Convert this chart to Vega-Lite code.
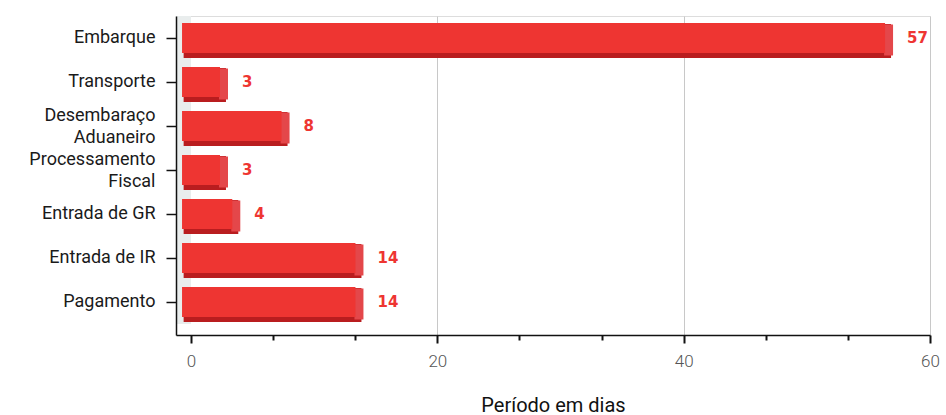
{
  "$schema": "https://vega.github.io/schema/vega-lite/v6.json",
  "autosize": {"type": "none"},
  "padding": {"left": 176, "top": 16, "right": 16, "bottom": 80},
  "width": 754,
  "height": 319,
  "background": "white",
  "data": {
    "values": [
      {"etapa": "Embarque", "dias": 57},
      {"etapa": "Transporte", "dias": 3},
      {"etapa": "Desembaraço|Aduaneiro", "dias": 8},
      {"etapa": "Processamento|Fiscal", "dias": 3},
      {"etapa": "Entrada de GR", "dias": 4},
      {"etapa": "Entrada de IR", "dias": 14},
      {"etapa": "Pagamento", "dias": 14}
    ]
  },
  "encoding": {
    "y": {
      "field": "etapa",
      "type": "nominal",
      "sort": null,
      "scale": {"paddingInner": 0, "paddingOuter": 0.125, "align": 0},
      "axis": {
        "title": null,
        "labelExpr": "split(datum.label, '|')",
        "labelFont": "Roboto",
        "labelFontSize": 18,
        "labelColor": "#1a1a1a",
        "labelLineHeight": 21.5,
        "labelPadding": 11,
        "labelOffset": {"condition": {"test": "indexof(datum.value, '|') >= 0", "value": -10}, "value": 0},
        "domainColor": "#111111",
        "domainWidth": 1.5,
        "tickColor": "#111111",
        "tickWidth": 1.5,
        "tickSize": 10,
        "grid": false
      }
    }
  },
  "layer": [
    {
      "mark": {"type": "rect", "color": "#e9eded"},
      "encoding": {
        "x": {
          "datum": -1.22,
          "type": "quantitative",
          "scale": {"domain": [-1.22, 60], "nice": false, "zero": false},
          "axis": {
            "title": "Período em dias",
            "titleFont": "Roboto",
            "titleFontSize": 20,
            "titleFontWeight": "normal",
            "titleColor": "#111111",
            "titlePadding": 26,
            "values": [0, 6.6667, 13.3333, 20, 26.6667, 33.3333, 40, 46.6667, 53.3333, 60],
            "labelExpr": "datum.value % 20 === 0 ? datum.label : ''",
            "labelFlush": false,
            "labelFont": "Roboto",
            "labelFontSize": 17,
            "labelFontWeight": 300,
            "labelColor": "#555555",
            "labelPadding": 10,
            "domainColor": "#111111",
            "domainWidth": 1.5,
            "tickColor": "#111111",
            "tickWidth": 2,
            "tickSize": {"condition": {"test": "datum.value % 20 === 0", "value": 8}, "value": 5},
            "grid": true,
            "gridColor": "#c8c8c8",
            "gridWidth": 1,
            "gridOpacity": {"condition": {"test": "datum.value % 20 === 0 && datum.value > 0", "value": 1}, "value": 0}
          }
        },
        "x2": {"datum": 0}
      }
    },
    {
      "mark": {"type": "rule", "color": "#6d5a6d", "strokeWidth": 1},
      "encoding": {"x": {"datum": 0, "type": "quantitative"}}
    },
    {
      "mark": {"type": "bar", "color": "#b91d1f", "size": 34, "yOffset": 3, "xOffset": -2},
      "encoding": {
        "x": {"field": "dias", "type": "quantitative"},
        "x2": {"datum": -0.6}
      }
    },
    {
      "mark": {"type": "bar", "color": "#e4474a", "size": 31, "yOffset": 2, "x2Offset": -9},
      "encoding": {
        "x": {"field": "dias", "type": "quantitative"},
        "x2": {"field": "dias"}
      }
    },
    {
      "mark": {"type": "bar", "color": "#ee3532", "size": 30, "xOffset": -8},
      "encoding": {
        "x": {"field": "dias", "type": "quantitative"},
        "x2": {"datum": -0.73}
      }
    },
    {
      "mark": {"type": "text", "align": "left", "baseline": "middle", "dx": 14, "font": "DejaVu Sans", "fontWeight": "bold", "fontSize": 15, "color": "#ee3532"},
      "encoding": {
        "x": {"field": "dias", "type": "quantitative"},
        "text": {"field": "dias", "type": "quantitative"}
      }
    }
  ]
}
